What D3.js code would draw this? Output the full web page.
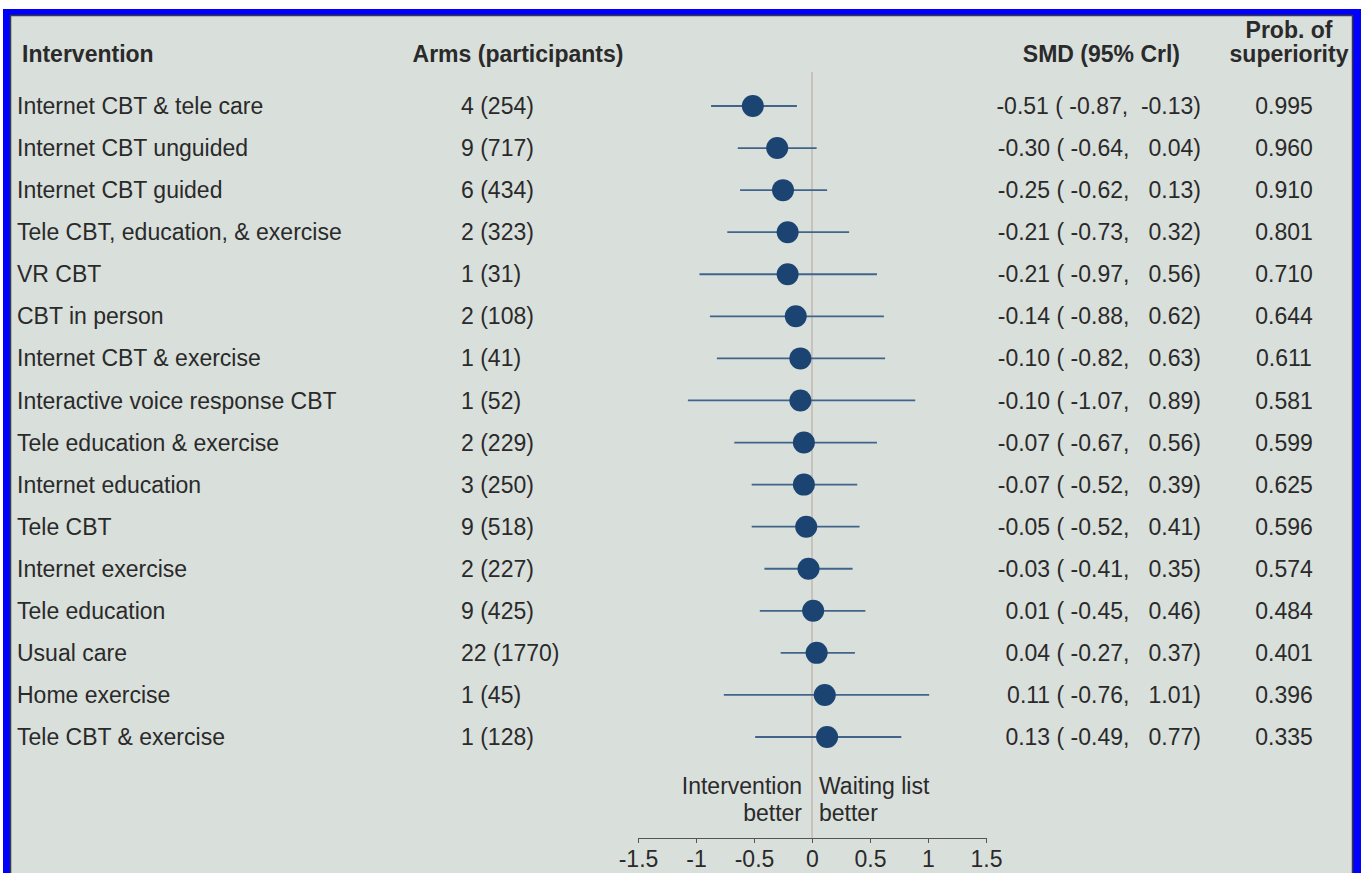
<!DOCTYPE html>
<html>
<head>
<meta charset="utf-8">
<script src="https://cdn.jsdelivr.net/npm/d3@7"></script>
<style>
	body { margin: 0; background: #fff; }
	text { font-family: "Liberation Sans", Arial, sans-serif; fill: #2a2a2a; }
</style>
</head>
<body>
<div id="chart"></div>
<script>
//values
let interventions = ["Internet CBT & tele care", "Internet CBT unguided", "Internet CBT guided",
	"Tele CBT, education, & exercise", "VR CBT", "CBT in person", "Internet CBT & exercise",
	"Interactive voice response CBT", "Tele education & exercise", "Internet education",
	"Tele CBT", "Internet exercise", "Tele education", "Usual care", "Home exercise", "Tele CBT & exercise"];
let arms = ["4 (254)", "9 (717)", "6 (434)", "2 (323)", "1 (31)", "2 (108)", "1 (41)", "1 (52)",
	"2 (229)", "3 (250)", "9 (518)", "2 (227)", "9 (425)", "22 (1770)", "1 (45)", "1 (128)"];
let smd = [-0.51, -0.30, -0.25, -0.21, -0.21, -0.14, -0.10, -0.10, -0.07, -0.07, -0.05, -0.03, 0.01, 0.04, 0.11, 0.13];
let lower = [-0.87, -0.64, -0.62, -0.73, -0.97, -0.88, -0.82, -1.07, -0.67, -0.52, -0.52, -0.41, -0.45, -0.27, -0.76, -0.49];
let upper = [-0.13, 0.04, 0.13, 0.32, 0.56, 0.62, 0.63, 0.89, 0.56, 0.39, 0.41, 0.35, 0.46, 0.37, 1.01, 0.77];
let probSup = [0.995, 0.960, 0.910, 0.801, 0.710, 0.644, 0.611, 0.581, 0.599, 0.625, 0.596, 0.574, 0.484, 0.401, 0.396, 0.335];
let xTicks = [-1.5, -1, -0.5, 0, 0.5, 1, 1.5];

let width = 1362, height = 873;
let fs = 23;

let svg = d3.select("#chart").append("svg")
	.attr("width", width)
	.attr("height", height);

//frame
svg.append("rect").attr("x", 3).attr("y", 9).attr("width", 1358).attr("height", 880).attr("fill", "#0000ff");
svg.append("rect").attr("x", 10.5).attr("y", 15.5).attr("width", 1342).attr("height", 880)
	.attr("fill", "#d9dfdb").attr("stroke", "#3a3a3a").attr("stroke-width", 1.5);

let data = interventions.map((d, i) => ({
	name: d, arms: arms[i], smd: smd[i], lo: lower[i], hi: upper[i], prob: probSup[i]
}));

//scales
let xScale = d3.scaleLinear().domain([-1.5, 1.5]).range([638, 986]);
let yScale = d3.scalePoint().domain(d3.range(data.length)).range([106, 737]);

//plain hyphen for negatives, like the original
let fmt = (v) => v.toFixed(2);
let pad = (v) => (v < 0 ? "  " : "   ") + fmt(v);

//headers
let header = svg.append("g").attr("font-size", fs);
header.append("text").attr("x", 22).attr("y", 62).attr("font-weight", "bold").text("Intervention");
header.append("text").attr("x", 518).attr("y", 62).attr("text-anchor", "middle").attr("font-weight", "bold").text("Arms (participants)");
header.append("text").attr("x", 1180).attr("y", 62).attr("text-anchor", "end").attr("font-weight", "bold").text("SMD (95% Crl)");
header.append("text").attr("x", 1289).attr("y", 38).attr("text-anchor", "middle").attr("font-weight", "bold").text("Prob. of");
header.append("text").attr("x", 1289).attr("y", 62).attr("text-anchor", "middle").attr("font-weight", "bold").text("superiority");

//reference line at 0
svg.append("line")
	.attr("x1", xScale(0)).attr("x2", xScale(0))
	.attr("y1", 72).attr("y2", 838)
	.attr("stroke", "#bcaea8").attr("stroke-width", 1.2);

let rows = svg.selectAll(".row")
	.data(data)
	.enter()
	.append("g")
	.attr("class", "row")
	.attr("transform", (d, i) => `translate(0,${yScale(i)})`);

rows.append("text").attr("x", 17).attr("dy", "0.35em").attr("font-size", fs).text(d => d.name);
rows.append("text").attr("x", 461).attr("dy", "0.35em").attr("font-size", fs).text(d => d.arms);
rows.append("text").attr("x", 1201).attr("dy", "0.35em").attr("font-size", fs)
	.attr("text-anchor", "end").style("white-space", "pre")
	.text(d => fmt(d.smd) + " ( " + fmt(d.lo) + "," + pad(d.hi) + ")");
rows.append("text").attr("x", 1284).attr("dy", "0.35em").attr("font-size", fs)
	.attr("text-anchor", "middle").text(d => d.prob.toFixed(3));

rows.append("line")
	.attr("x1", d => xScale(d.lo)).attr("x2", d => xScale(d.hi))
	.attr("stroke", "#40648a").attr("stroke-width", 1.8);
rows.append("circle")
	.attr("cx", d => xScale(d.smd))
	.attr("r", 11)
	.attr("fill", "#1b4472");

//annotations
let ann = svg.append("g").attr("font-size", fs);
ann.append("text").attr("x", 802).attr("y", 794).attr("text-anchor", "end").text("Intervention");
ann.append("text").attr("x", 802).attr("y", 821).attr("text-anchor", "end").text("better");
ann.append("text").attr("x", 819).attr("y", 794).text("Waiting list");
ann.append("text").attr("x", 819).attr("y", 821).text("better");

//x axis
let xAxis = d3.axisBottom(xScale)
	.tickValues(xTicks)
	.tickSize(5)
	.tickSizeOuter(5)
	.tickFormat(d => String(d));

let gx = svg.append("g")
	.attr("class", "axis x_axis")
	.attr("transform", "translate(0,838)")
	.call(xAxis);

gx.select(".domain").attr("stroke", "#555");
gx.selectAll(".tick line").attr("stroke", "#555");
gx.selectAll("text")
	.attr("font-size", fs)
	.attr("font-family", "Liberation Sans, Arial, sans-serif")
	.attr("fill", "#2a2a2a")
	.attr("y", 13);
</script>
</body>
</html>
